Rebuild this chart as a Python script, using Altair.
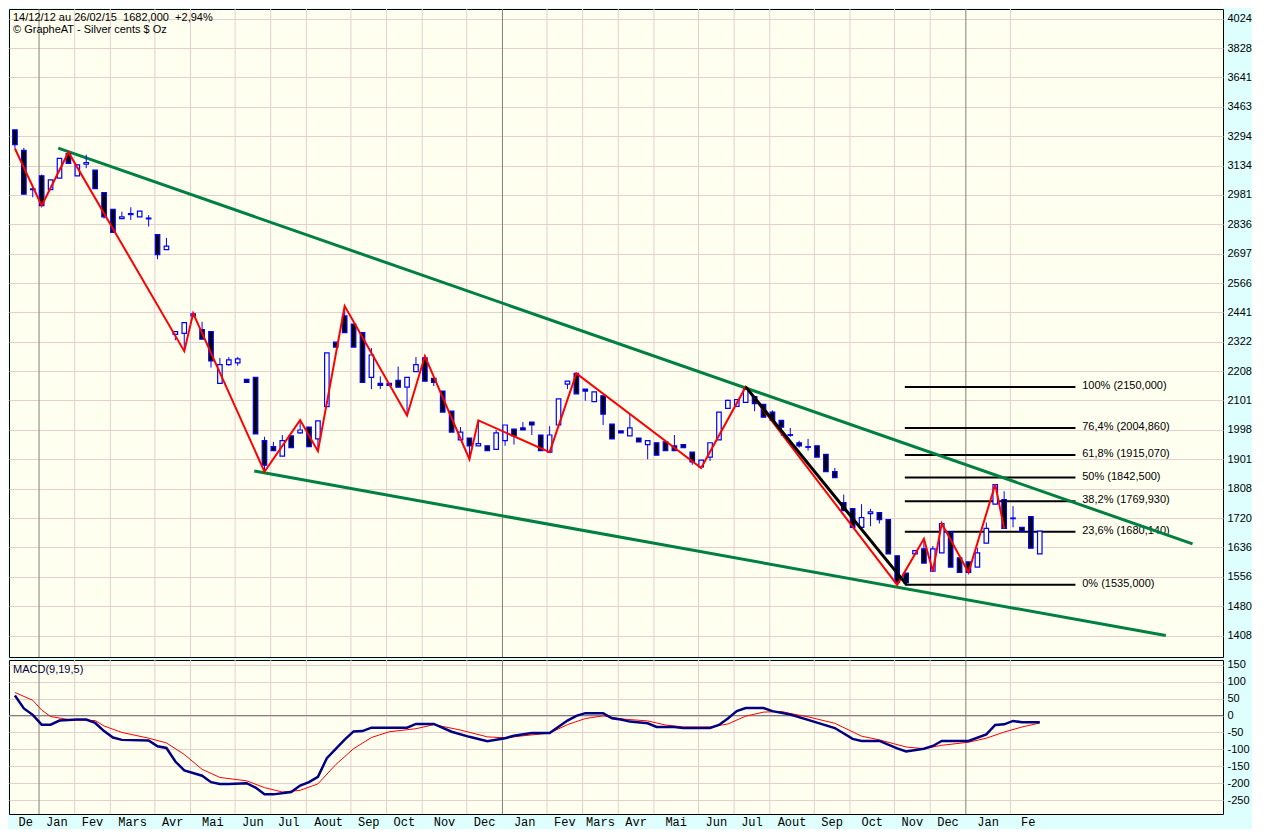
import altair as alt
import pandas as pd
import numpy as np

# ---------------- data (weekly candles, from 14/12/12) ----------------
start_date = "2012-12-14"
opens = [3330,3216,3012,3080,3008,3068,3198,3079,3141,3110,
         2993,2909,2863,2883,2872,2866,2786,2716,2351,2355,
         2426,2370,2362,2163,2233,2240,2178,2185,1962,1942,
         1911,1978,1988,2008,1968,2079,2320,2426,2393,2358,
         2185,2163,2163,2174,2149,2207,2259,2182,2135,2063,
         1965,1971,1945,1945,1933,1962,2001,2005,2025,1981,
         1924,2015,2160,2200,2142,2097,2118,2018,1995,1978,
         1971,1949,1955,1958,1945,1949,1924,1876,1908,1965,
         2073,2080,2094,2115,2087,2060,2031,1982,1955,1942,
         1945,1917,1861,1766,1748,1693,1733,1736,1715,1613,
         1566,1618,1632,1571,1621,1679,1607,1596,1582,1648,
         1761,1775,1718,1693,1724,1618]
highs = [3330,3230,3021,3086,3058,3172,3206,3138,3193,3110,
         2993,2909,2897,2919,2900,2880,2786,2771,2362,2399,
         2437,2402,2362,2259,2262,2263,2178,2185,1975,1958,
         1981,1978,2032,2008,2029,2278,2320,2467,2393,2358,
         2297,2189,2163,2226,2185,2262,2266,2182,2135,2063,
         2008,1971,2031,1945,1998,2015,2001,2025,2025,1981,
         2011,2107,2171,2200,2142,2132,2118,2018,1995,2053,
         1971,1962,1955,1958,1981,1949,1924,1898,1955,2060,
         2104,2104,2150,2115,2087,2066,2031,2005,1962,1968,
         1945,1917,1873,1790,1748,1761,1747,1736,1715,1613,
         1566,1627,1660,1640,1704,1679,1607,1596,1635,1707,
         1821,1800,1755,1693,1724,1682]
lows = [3226,2985,2969,2927,3008,3068,3146,3079,3120,3013,
        2864,2797,2863,2856,2872,2825,2672,2716,2328,2285,
        2421,2332,2222,2163,2229,2229,2167,1985,1861,1929,
        1911,1939,1985,1942,1927,2079,2301,2358,2301,2167,
        2142,2142,2156,2149,2048,2207,2171,2153,2060,1991,
        1965,1901,1945,1929,1933,1945,1949,1998,1981,1929,
        1924,2015,2142,2125,2100,2097,2015,1968,1988,1978,
        1958,1901,1914,1929,1929,1939,1883,1873,1895,1965,
        2073,2080,2094,2063,2042,2031,1978,1975,1939,1929,
        1908,1861,1842,1742,1693,1693,1696,1704,1618,1535,
        1537,1618,1593,1571,1621,1582,1568,1568,1582,1648,
        1761,1690,1693,1682,1634,1618]
closes = [3247,2985,3008,2927,3058,3172,3146,3138,3150,3013,
          2872,2797,2872,2888,2900,2862,2693,2732,2362,2399,
          2435,2332,2247,2233,2251,2255,2167,1985,1882,1929,
          1962,1939,1998,1942,2029,2278,2301,2358,2301,2167,
          2270,2156,2156,2149,2185,2233,2171,2167,2060,1991,
          1991,1945,1952,1929,1988,2015,1978,1998,2015,1929,
          1981,2107,2171,2125,2135,2132,2053,1968,1988,2005,
          1958,1962,1914,1929,1929,1939,1892,1898,1955,2060,
          2101,2104,2142,2090,2042,2031,2008,1980,1945,1940,
          1908,1861,1842,1742,1693,1721,1738,1715,1618,1542,
          1540,1627,1593,1632,1704,1582,1568,1568,1621,1690,
          1821,1690,1720,1682,1634,1682]

# red zigzag (candle index, price)
zz_idx = [0, 3, 6, 19, 20, 28, 32, 34, 37, 44, 46, 51, 52, 60, 63, 77, 82, 99, 102, 103, 104, 107, 110, 111]
zz_val = [3226, 2927, 3206, 2285, 2437, 1861, 2032, 1927, 2467, 2048, 2266, 1901, 2031, 1924, 2200, 1873, 2150, 1535, 1660, 1571, 1704, 1568, 1821, 1690]

# green trend lines
trend_id = ["haut", "haut", "bas", "bas"]
trend_date = ["2013-01-17", "2015-06-27", "2013-06-20", "2015-06-06"]
trend_price = [3228, 1646, 1863, 1408]

# black swing line
swing_idx = [82, 100]
swing_val = [2150, 1537]

# Fibonacci retracement
fib_pct = ["100%", "76,4%", "61,8%", "50%", "38,2%", "23,6%", "0%"]
fib_val = [2150.000, 2004.860, 1915.070, 1842.500, 1769.930, 1680.140, 1535.000]
fib_start = "2014-11-13"
fib_end = "2015-03-27"
fib_label_at = "2015-03-30"

# MACD(9,19,5)
macd_idx = [0, 1, 2, 3, 4, 5, 7, 8, 9, 10, 11, 12, 15, 16, 17, 18, 19, 21, 22, 23, 24, 26, 27, 28, 29,
            31, 32, 33, 34, 35, 37, 38, 39, 40, 44, 45, 47, 49, 51, 53, 55, 56, 58, 60, 62, 63, 64, 66,
            67, 68, 69, 71, 72, 74, 75, 78, 79, 80, 81, 82, 84, 85, 87, 89, 92, 94, 95, 97, 99, 100,
            102, 103, 104, 107, 109, 110, 111, 112, 113, 115]
macd_val = [59, 21, 2, -27, -27, -15, -12, -12, -22, -46, -65, -72, -74, -91, -96, -136, -162, -178, -197, -202, -202, -200, -213, -233, -233,
            -226, -207, -197, -181, -126, -71, -47, -46, -36, -36, -25, -25, -48, -63, -76, -67, -60, -52, -52, -15, -1, 7, 7,
            -8, -12, -18, -23, -34, -34, -37, -37, -28, -9, 13, 22, 22, 13, 3, -13, -37, -69, -75, -75, -97, -106,
            -98, -90, -75, -75, -56, -28, -26, -16, -20, -20]
sig_idx = [0, 2, 3, 4, 6, 9, 10, 12, 15, 17, 19, 21, 23, 26, 28, 30, 32, 34, 36, 38, 40, 42, 45, 47, 50, 53,
           55, 57, 60, 62, 64, 66, 68, 71, 73, 75, 78, 80, 82, 84, 86, 87, 89, 92, 95, 97, 100, 102, 104, 107,
           109, 111, 113, 115]
sig_val = [68, 45, 16, -3, -12, -15, -31, -50, -67, -81, -115, -159, -183, -193, -213, -226, -221, -202, -145, -98, -65, -48, -39, -27, -43, -63,
           -66, -60, -52, -27, -9, -1, -10, -16, -28, -34, -34, -25, -2, 10, 12, 6, -4, -23, -61, -72, -93, -98, -88, -79,
           -67, -49, -34, -22]

month_labels = ["De", "Jan", "Fev", "Mars", "Avr", "Mai", "Jun", "Jul", "Aout", "Sep", "Oct", "Nov", "Dec",
                "Jan", "Fev", "Mars", "Avr", "Mai", "Jun", "Jul", "Aout", "Sep", "Oct", "Nov", "Dec", "Jan", "Fe"]

price_ticks = [4024, 3828, 3641, 3463, 3294, 3134, 2981, 2836, 2697, 2566, 2441, 2322, 2208, 2101,
               1998, 1901, 1808, 1720, 1636, 1556, 1480, 1408]
macd_ticks = [150, 100, 50, 0, -50, -100, -150, -200, -250]

NB = "\u00a0"
header1 = f"14/12/12 au 26/02/15{NB}{NB}1682,000{NB}{NB}+2,94%"
header2 = "© GrapheAT - Silver cents $ Oz"
macd_title = "MACD(9,19,5)"

# ---------------- frames ----------------
dates = pd.date_range(start_date, periods=len(opens), freq="7D")
df = pd.DataFrame({"date": dates, "open": opens, "high": highs, "low": lows, "close": closes})
df["lo"] = df[["open", "close"]].min(axis=1)
df["hi"] = df[["open", "close"]].max(axis=1)
df["dir"] = np.where(df["close"] >= df["open"], "up", "down")

zz = pd.DataFrame({"date": dates[zz_idx], "price": zz_val})
trend = pd.DataFrame({"id": trend_id, "date": pd.to_datetime(trend_date), "price": trend_price})
swing = pd.DataFrame({"date": dates[swing_idx], "price": swing_val})
fib = pd.DataFrame({
    "pct": fib_pct, "val": fib_val,
    "start": pd.Timestamp(fib_start), "end": pd.Timestamp(fib_end), "lab": pd.Timestamp(fib_label_at),
})
fib["label"] = [f"{p} ({v:.3f})".replace(".", ",") for p, v in zip(fib_pct, fib_val)]

macd = pd.DataFrame({"date": dates[macd_idx], "v": macd_val})
sig = pd.DataFrame({"date": dates[sig_idx], "v": sig_val})

per = df["date"].dt.to_period("M")
first_in_month = df.groupby(per)["date"].min()
last_in_month = df.groupby(per)["date"].max()
shift = pd.Timedelta(hours=50)
grid_df = pd.DataFrame({"date": first_in_month.iloc[1:].values - shift,
                        "jan": (first_in_month.iloc[1:].dt.month == 1).values})
month_grid = grid_df[~grid_df["jan"]]
year_grid = grid_df[grid_df["jan"]]
lab_dates = first_in_month + (last_in_month + pd.Timedelta(days=7) - first_in_month) / 2 - shift
mlab = pd.DataFrame({"date": lab_dates.values, "label": month_labels})

# ---------------- styling ----------------
W, H1, H2 = 1214, 648, 154
BG = "#DFFFFF"
PLOT = "#FFFFF0"
GRID = "#E4CFCF"
YEAR = "#808080"
SANS = "Liberation Sans"

xscale = alt.Scale(domain=[alt.DateTime(year=2012, month=12, date=9, hours=8),
                           alt.DateTime(year=2015, month=7, date=20, hours=22)],
                   nice=False, padding=0)
pscale = alt.Scale(type="log", domain=[1357.6, 4091], nice=False, padding=0)
mscale = alt.Scale(domain=[-291, 164], nice=False, zero=False, padding=0)

axis_style = dict(orient="right", grid=True, gridColor=GRID, domain=False, ticks=False,
                  labelFont=SANS, labelFontSize=11, labelColor="black", labelPadding=4,
                  title=None, labelExpr="'' + datum.value", labelOverlap=False,
                  labelBound=False, labelFlush=False, tickCount=100)
paxis = alt.Axis(values=price_ticks, **axis_style)
maxis = alt.Axis(values=macd_ticks, **axis_style)
X = lambda f="date": alt.X(f"{f}:T", scale=xscale, axis=None)

# ---------------- main panel ----------------
base_axis = alt.Chart(df).mark_rule(opacity=0).encode(
    x=X(), y=alt.Y("high:Q", scale=pscale, axis=paxis))
mgrid = alt.Chart(month_grid).mark_rule(color=GRID, strokeWidth=1).encode(x=X())
ygrid = alt.Chart(year_grid).mark_rule(color=YEAR, strokeWidth=1).encode(x=X())
fib_rules = alt.Chart(fib).mark_rule(color="black", strokeWidth=2).encode(
    x=X("start"), x2="end:T", y=alt.Y("val:Q", scale=pscale))
fib_text = alt.Chart(fib).mark_text(align="left", baseline="middle", dx=3, dy=-1,
                                    font=SANS, fontSize=11, color="black").encode(
    x=X("lab"), y=alt.Y("val:Q", scale=pscale), text="label:N")
green = alt.Chart(trend).mark_line(color="#008040", strokeWidth=3).encode(
    x=X(), y=alt.Y("price:Q", scale=pscale), detail="id:N")
wicks = alt.Chart(df).mark_rule(color="#0000FF", strokeWidth=1).encode(
    x=X(), y=alt.Y("low:Q", scale=pscale), y2="high:Q")
bodies = alt.Chart(df).mark_bar(size=4.5, stroke="#0000FF", strokeWidth=1.2).encode(
    x=X(), y=alt.Y("lo:Q", scale=pscale), y2="hi:Q",
    fill=alt.Fill("dir:N", scale=alt.Scale(domain=["up", "down"], range=[PLOT, "#000000"]), legend=None))
zig = alt.Chart(zz).mark_line(color="#FF0000", strokeWidth=2).encode(
    x=X(), y=alt.Y("price:Q", scale=pscale))
swing_line = alt.Chart(swing).mark_line(color="black", strokeWidth=3).encode(
    x=X(), y=alt.Y("price:Q", scale=pscale))
h1 = alt.Chart(pd.DataFrame({"t": [header1]})).mark_text(
    align="left", baseline="middle", font=SANS, fontSize=11, color="black").encode(
    x=alt.value(4), y=alt.value(9), text="t:N")
h2 = alt.Chart(pd.DataFrame({"t": [header2]})).mark_text(
    align="left", baseline="middle", font=SANS, fontSize=11, color="black").encode(
    x=alt.value(4), y=alt.value(21), text="t:N")

main = alt.layer(base_axis, mgrid, ygrid, fib_rules, fib_text, green, wicks, bodies,
                 zig, swing_line, h1, h2).properties(width=W, height=H1)

# ---------------- MACD panel ----------------
m_axis = alt.Chart(macd).mark_rule(opacity=0).encode(
    x=X(), y=alt.Y("v:Q", scale=mscale, axis=maxis))
zero = alt.Chart(pd.DataFrame({"v": [0]})).mark_rule(color=YEAR, strokeWidth=1).encode(
    y=alt.Y("v:Q", scale=mscale))
navy = alt.Chart(macd).mark_line(color="#000080", strokeWidth=2.5).encode(
    x=X(), y=alt.Y("v:Q", scale=mscale))
redl = alt.Chart(sig).mark_line(color="#FF0000", strokeWidth=1).encode(
    x=X(), y=alt.Y("v:Q", scale=mscale))
mtxt = alt.Chart(mlab).mark_text(baseline="middle", align="center", font="Liberation Mono",
                                 fontSize=12, color="black").encode(
    x=X(), y=alt.value(H2 + 8), text="label:N")
mtitle = alt.Chart(pd.DataFrame({"t": [macd_title]})).mark_text(
    align="left", baseline="middle", font=SANS, fontSize=11, color="#000040").encode(
    x=alt.value(4), y=alt.value(10), text="t:N")

macd_chart = alt.layer(m_axis, mgrid, ygrid, zero, redl, navy, mtxt, mtitle).properties(width=W, height=H2)

chart = alt.vconcat(main, macd_chart, spacing=0).properties(
    background=BG, padding=0
).configure_view(
    stroke="black", strokeWidth=1, fill=PLOT
).configure_concat(spacing=0)

chart.save("out.html", embed_options={"renderer": "svg", "actions": False})
